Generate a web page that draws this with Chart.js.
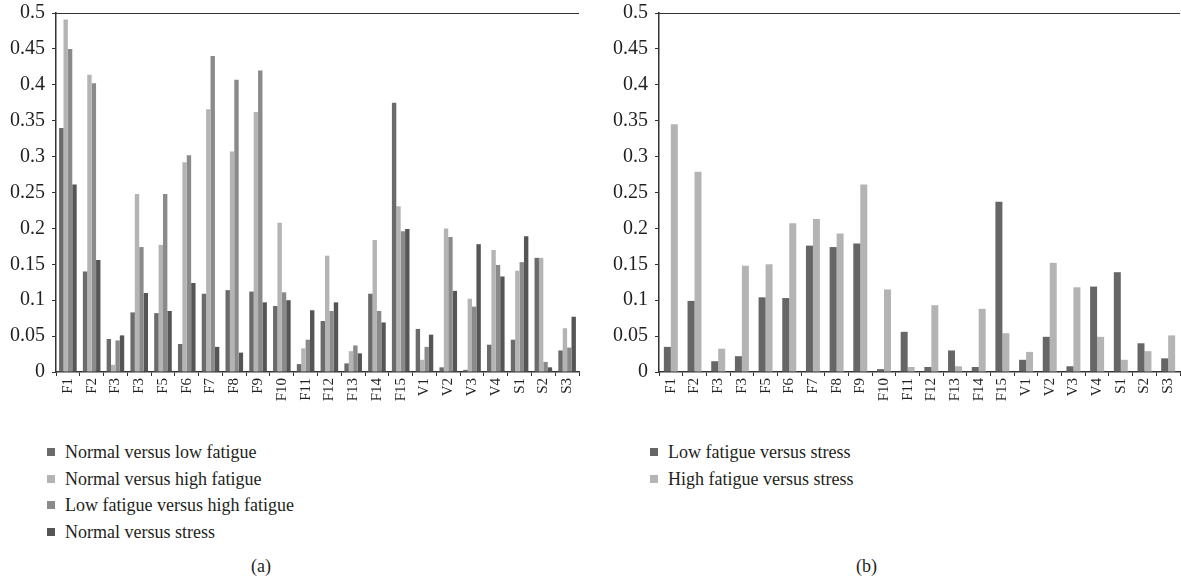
<!DOCTYPE html>
<html>
<head>
<meta charset="utf-8">
<script src="https://cdn.jsdelivr.net/npm/chart.js@4/dist/chart.umd.min.js"></script>
<style>
  html, body { margin: 0; padding: 0; background: #fff; }
  body { width: 1181px; height: 579px; position: relative; overflow: hidden;
         font-family: "Liberation Serif", "Times New Roman", serif; color: #231f20; }
  .wrap { position: absolute; top: 0; }
  .legend { position: absolute; font-size: 18px; line-height: 26.5px; }
  .legend div { position: relative; padding-left: 18px; white-space: nowrap; }
  .legend span { position: absolute; left: 0; top: 9px; width: 8px; height: 8px; }
  .cap { position: absolute; font-size: 18px; }
</style>
</head>
<body>
<div class="wrap" style="left:0;width:590px;height:420px;"><canvas id="ca"></canvas></div>
<div class="wrap" style="left:603px;width:578px;height:420px;"><canvas id="cb"></canvas></div>
<div class="legend" id="lega" style="left:47px;top:439px;"></div>
<div class="legend" id="legb" style="left:650px;top:439px;"></div>
<div class="cap" style="left:251px;top:556px;">(a)</div>
<div class="cap" style="left:856px;top:556px;">(b)</div>
<script>
const categories = ['F1','F2','F3','F3','F5','F6','F7','F8','F9','F10','F11','F12','F13','F14','F15','V1','V2','V3','V4','S1','S2','S3'];
const yTickLabels = ['0','0.05','0.1','0.15','0.2','0.25','0.3','0.35','0.4','0.45','0.5'];

// Panel (a)
const normalVsLow = [0.34,0.14,0.046,0.083,0.082,0.039,0.109,0.114,0.112,0.092,0.011,0.071,0.012,0.109,0.375,0.06,0.0065,0.003,0.038,0.045,0.159,0.03];
const normalVsHigh = [0.491,0.414,0.01,0.248,0.177,0.292,0.366,0.307,0.362,0.208,0.033,0.162,0.029,0.184,0.231,0.017,0.2,0.102,0.17,0.141,0.159,0.061];
const lowVsHigh = [0.45,0.402,0.044,0.174,0.248,0.302,0.44,0.407,0.42,0.111,0.045,0.085,0.037,0.085,0.196,0.035,0.188,0.091,0.149,0.153,0.014,0.034];
const normalVsStress = [0.261,0.156,0.051,0.11,0.085,0.124,0.035,0.027,0.097,0.1,0.086,0.097,0.026,0.069,0.199,0.052,0.113,0.178,0.133,0.189,0.0065,0.077];

// Panel (b)
const lowVsStress = [0.035,0.099,0.015,0.022,0.104,0.103,0.176,0.174,0.179,0.004,0.056,0.007,0.03,0.007,0.237,0.017,0.049,0.008,0.119,0.139,0.04,0.019];
const highVsStress = [0.345,0.279,0.0325,0.148,0.15,0.207,0.213,0.193,0.261,0.115,0.007,0.093,0.008,0.088,0.054,0.028,0.152,0.118,0.049,0.017,0.029,0.051];

const seriesA = [
  { label: 'Normal versus low fatigue', data: normalVsLow, color: '#6b6b6b' },
  { label: 'Normal versus high fatigue', data: normalVsHigh, color: '#b4b4b4' },
  { label: 'Low fatigue versus high fatigue', data: lowVsHigh, color: '#8a8a8a' },
  { label: 'Normal versus stress', data: normalVsStress, color: '#555555' }
];
const seriesB = [
  { label: 'Low fatigue versus stress', data: lowVsStress, color: '#666666' },
  { label: 'High fatigue versus stress', data: highVsStress, color: '#b4b4b4' }
];

const FONT = '"Liberation Serif", "Times New Roman", serif';
const INK = '#231f20';
const AXIS = '#333333';

const topLine = {
  id: 'topLine',
  afterDraw(chart) {
    const { ctx, chartArea } = chart;
    ctx.save();
    ctx.strokeStyle = AXIS;
    ctx.lineWidth = 1.2;
    ctx.beginPath();
    ctx.moveTo(chartArea.left, chartArea.top + 0.5);
    ctx.lineTo(chartArea.right, chartArea.top + 0.5);
    ctx.stroke();
    ctx.restore();
  }
};

function makeChart(id, series, catPct, padRight) {
  return new Chart(document.getElementById(id), {
    type: 'bar',
    data: {
      labels: categories,
      datasets: series.map(s => ({
        label: s.label, data: s.data, backgroundColor: s.color,
        borderWidth: 0, categoryPercentage: catPct, barPercentage: 1.0
      }))
    },
    options: {
      responsive: true, maintainAspectRatio: false, animation: false,
      layout: { padding: { top: 13, right: padRight, bottom: 0, left: 0 } },
      plugins: { legend: { display: false }, tooltip: { enabled: false } },
      scales: {
        x: {
          offset: true,
          afterFit(scale) { scale.height = 48; scale.paddingLeft = 0; scale.paddingRight = 0; },
          grid: { display: true, offset: true, drawOnChartArea: false, drawTicks: true,
                  tickLength: 4, color: AXIS },
          border: { display: true, color: AXIS, width: 1.5 },
          ticks: { autoSkip: false, minRotation: 90, maxRotation: 90, padding: 2,
                   color: INK, font: { family: FONT, size: 15 } }
        },
        y: {
          min: 0, max: 0.5,
          afterFit(scale) { scale.width = 56; scale.paddingTop = 0; scale.paddingBottom = 0; },
          grid: { display: true, drawOnChartArea: false, drawTicks: true, tickLength: 4, color: AXIS },
          border: { display: true, color: AXIS, width: 1.5 },
          ticks: {
            stepSize: 0.05, padding: 7, color: INK, font: { family: FONT, size: 20 },
            callback(v) { const i = Math.round(v / 0.05); return yTickLabels[i]; }
          }
        }
      }
    },
    plugins: [topLine]
  });
}

makeChart('ca', seriesA, 0.74, 11);
makeChart('cb', seriesB, 0.59, 1);

function legend(id, series) {
  const el = document.getElementById(id);
  series.forEach(s => {
    const d = document.createElement('div');
    const sw = document.createElement('span');
    sw.style.background = s.color;
    d.appendChild(sw);
    d.appendChild(document.createTextNode(s.label));
    el.appendChild(d);
  });
}
legend('lega', seriesA);
legend('legb', seriesB);
</script>
</body>
</html>
